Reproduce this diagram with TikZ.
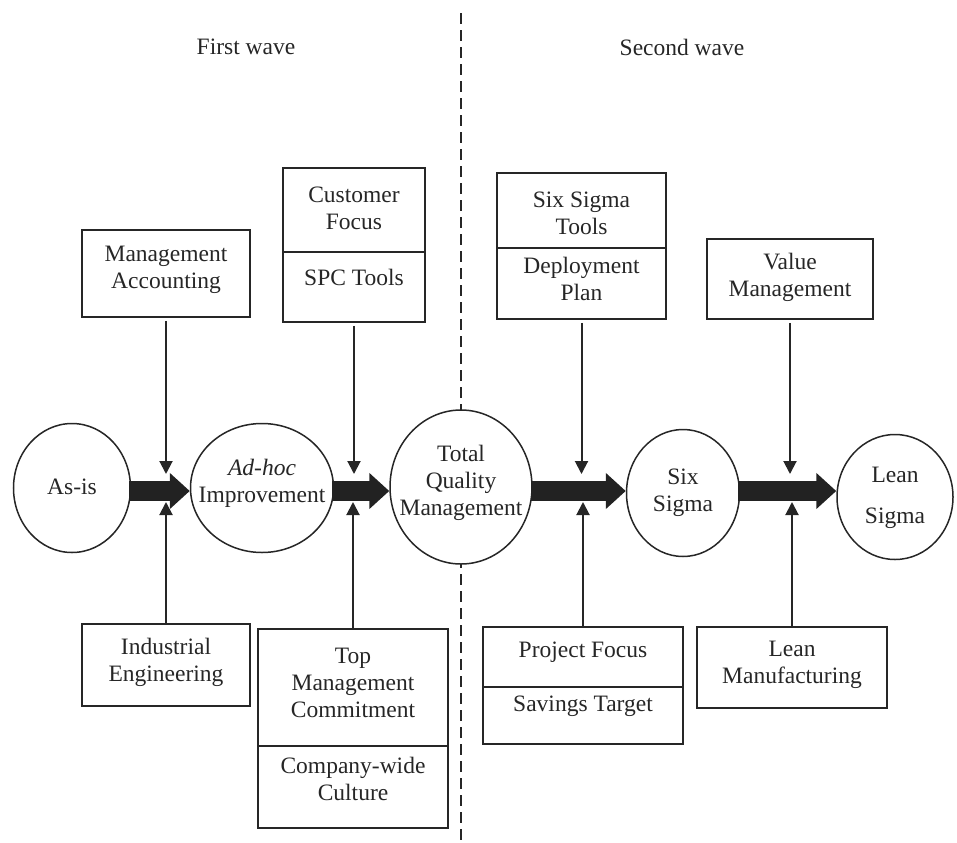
\documentclass[tikz,border=0pt]{standalone}
\usepackage{fontspec}
\setmainfont{Liberation Serif}
\usetikzlibrary{shapes.geometric,arrows.meta}

\definecolor{ink}{HTML}{262626}

\tikzset{
  txt/.style={font=\fontsize{23.5bp}{27bp}\selectfont, text=ink, align=center, inner sep=0pt},
  stage/.style={ellipse, draw=ink, fill=white, line width=1.5bp, inner sep=0pt},
  box/.style={rectangle, draw=ink, line width=1.8bp, inner sep=0pt},
  flow/.style={line width=20bp, draw=ink!90!black, -{Triangle[width=35bp,length=20bp]}},
  feed/.style={line width=2bp, draw=ink, -{Triangle[width=13bp,length=13bp]}},
  divider/.style={line width=2bp, draw=ink, dash pattern=on 11bp off 6bp},
}

\begin{document}
\begin{tikzpicture}[x=1bp, y=-1bp]
\useasboundingbox (0,0) rectangle (957,843);

% wave headings and divider (drawn first so the stages cover it)
\node[txt] (first) at (246,47) {First wave};
\node[txt] (second) at (682,47) {Second wave};
\coordinate (divtop) at (461,13);
\coordinate (divbot) at (461,843);
\draw[divider] (divtop) -- (divbot);

% stages
\node[stage, minimum width=117bp, minimum height=129bp,
      label={[txt, yshift=1bp]center:As-is}] (asis) at (72,488) {};
\node[stage, minimum width=143bp, minimum height=129bp,
      label={[txt, yshift=5bp]center:{\textit{Ad-hoc}\\Improvement}}] (adhoc) at (262,488) {};
\node[stage, minimum width=142bp, minimum height=154bp,
      label={[txt, yshift=4.5bp]center:{Total\\Quality\\Management}}] (tqm) at (461,487) {};
\node[stage, minimum width=113bp, minimum height=127bp,
      label={[txt, yshift=0bp]center:{Six\\Sigma}}] (six) at (683,493) {};
\node[stage, minimum width=116bp, minimum height=125bp,
      label={[txt, yshift=-1bp]center:{Lean\\[14bp]Sigma}}] (lean) at (895,497) {};

% enablers above
\node[box, minimum width=168bp, minimum height=87bp,
      label={[txt, yshift=4bp]center:{Management\\Accounting}}] (ma) at (166,273.5) {};
\node[box, minimum width=142bp, minimum height=84bp,
      label={[txt, yshift=2bp]center:{Customer\\Focus}}] (cf) at (354,210) {};
\node[box, minimum width=142bp, minimum height=70bp,
      label={[txt, yshift=10bp]center:SPC Tools}] (spc) at (354,287) {};
\node[box, minimum width=169bp, minimum height=75bp,
      label={[txt, yshift=-3bp]center:{Six Sigma\\Tools}}] (sst) at (581.5,210.5) {};
\node[box, minimum width=169bp, minimum height=71bp,
      label={[txt, yshift=5bp]center:{Deployment\\Plan}}] (dp) at (581.5,283.5) {};
\node[box, minimum width=166bp, minimum height=80bp,
      label={[txt, yshift=1.5bp]center:{Value\\Management}}] (vm) at (790,279) {};

% enablers below
\node[box, minimum width=168bp, minimum height=82bp,
      label={[txt, yshift=3bp]center:{Industrial\\Engineering}}] (ie) at (166,665) {};
\node[box, minimum width=190bp, minimum height=117bp,
      label={[txt, yshift=4.5bp]center:{Top\\Management\\Commitment}}] (tmc) at (353,687.5) {};
\node[box, minimum width=190bp, minimum height=82bp,
      label={[txt, yshift=8bp]center:{Company-wide\\Culture}}] (cc) at (353,787) {};
\node[box, minimum width=200bp, minimum height=60bp,
      label={[txt, yshift=5bp]center:Project Focus}] (pf) at (583,657) {};
\node[box, minimum width=200bp, minimum height=57bp,
      label={[txt, yshift=9bp]center:Savings Target}] (st) at (583,715.5) {};
\node[box, minimum width=190bp, minimum height=81bp,
      label={[txt, yshift=3bp]center:{Lean\\Manufacturing}}] (lm) at (792,667.5) {};

% main flow
\coordinate (row) at (0,491);
\draw[flow] ([xshift=-2bp]asis.east |- row) -- (adhoc.west |- row);
\draw[flow] ([xshift=-2bp]adhoc.east |- row) -- (tqm.west |- row);
\draw[flow] ([xshift=-2bp]tqm.east |- row) -- (six.west |- row);
\draw[flow] ([xshift=-2bp]six.east |- row) -- (lean.west |- row);

% enabler feeds
\coordinate (tipTop) at (0,474);
\coordinate (tipBot) at (0,502);
\draw[feed, shorten <=3bp] (ma.south) -- (ma.south |- tipTop);
\draw[feed, shorten <=3bp] (spc.south) -- (spc.south |- tipTop);
\draw[feed, shorten <=3bp] (dp.south) -- (dp.south |- tipTop);
\draw[feed, shorten <=3bp] (vm.south) -- (vm.south |- tipTop);
\draw[feed] (ie.north) -- (ie.north |- tipBot);
\draw[feed] (tmc.north) -- (tmc.north |- tipBot);
\draw[feed] (pf.north) -- (pf.north |- tipBot);
\draw[feed] (lm.north) -- (lm.north |- tipBot);
\end{tikzpicture}
\end{document}
